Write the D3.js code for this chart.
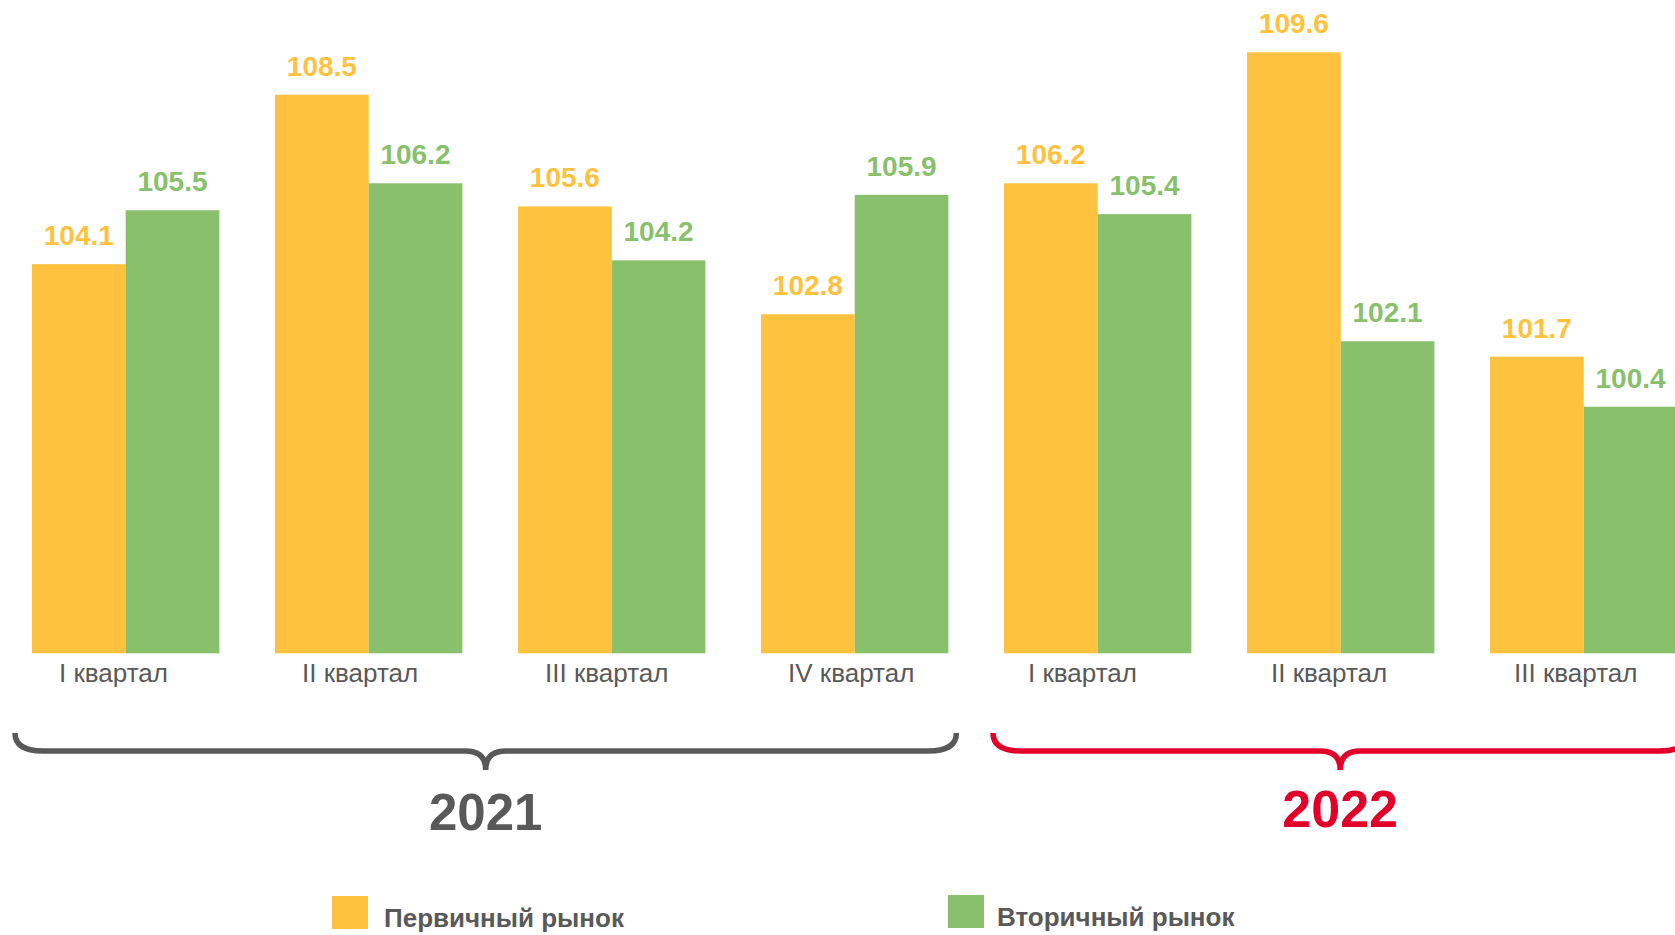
<!DOCTYPE html>
<html>
<head>
<meta charset="utf-8">
<script src="https://cdn.jsdelivr.net/npm/d3@7"></script>
<style>
  body { margin: 0; background: #fff; overflow: hidden; }
  text { font-family: "Liberation Sans", Arial, sans-serif; }
</style>
</head>
<body>
<script>
// data
var quarters = ["I квартал", "II квартал", "III квартал", "IV квартал", "I квартал", "II квартал", "III квартал"];
var primary = [104.1, 108.5, 105.6, 102.8, 106.2, 109.6, 101.7];
var secondary = [105.5, 106.2, 104.2, 105.9, 105.4, 102.1, 100.4];
var seriesNames = ["Первичный рынок", "Вторичный рынок"];
var yearLabels = ["2021", "2022"];
var yearFirst = [0, 4];
var yearLast = [3, 6];

var colors = ["#FFC23E", "#88C06C"];
var yearColors = ["#595959", "#E2002A"];

var svg = d3.select('body').append('svg')
  .attr('width', 1675)
  .attr('height', 935);

var x = d3.scaleBand()
  .domain(d3.range(quarters.length))
  .range([32, 1677.4])
  .paddingInner(0.229)
  .paddingOuter(0);

var xs = d3.scaleBand().domain([0, 1]).range([0, x.bandwidth()]);

var y = d3.scaleLinear().domain([94, 109.6]).range([653.3, 52.3]);

var rows = quarters.map(function(q, i){ return {i: i, vals: [primary[i], secondary[i]]}; });

var groups = svg.selectAll('.grp').data(rows).enter().append('g')
  .attr('class', 'grp')
  .attr('transform', function(d){ return 'translate(' + x(d.i) + ',0)'; });

var bars = groups.selectAll('.bar')
  .data(function(d){ return d.vals.map(function(v, k){ return {k: k, v: v}; }); })
  .enter();

bars.append('rect')
  .attr('x', function(d){ return xs(d.k); })
  .attr('y', function(d){ return y(d.v); })
  .attr('width', xs.bandwidth())
  .attr('height', function(d){ return y(94) - y(d.v); })
  .style('fill', function(d){ return colors[d.k]; });

bars.append('text')
  .attr('x', function(d){ return xs(d.k) + xs.bandwidth() / 2; })
  .attr('y', function(d){ return y(d.v) - 19; })
  .attr('text-anchor', 'middle')
  .style('font-size', '28px')
  .style('font-weight', 'bold')
  .style('fill', function(d){ return colors[d.k]; })
  .text(function(d){ return d.v.toFixed(1); });

// category labels (left aligned inside the group, like the original)
groups.append('text')
  .attr('x', function(d){ return d.i < 4 ? 27 : 24; })
  .attr('y', 682)
  .style('font-size', '26px')
  .style('fill', '#595959')
  .text(function(d){ return quarters[d.i]; });

// year braces
var brace = function(x1, x2, yTop, yLine, yTip){
  var mid = (x1 + x2) / 2, r = 28, r2 = 20;
  return 'M' + x1 + ',' + yTop +
    'Q' + x1 + ',' + yLine + ' ' + (x1 + r) + ',' + yLine +
    'H' + (mid - r2) +
    'Q' + mid + ',' + yLine + ' ' + mid + ',' + yTip +
    'Q' + mid + ',' + yLine + ' ' + (mid + r2) + ',' + yLine +
    'H' + (x2 - r) +
    'Q' + x2 + ',' + yLine + ' ' + x2 + ',' + yTop;
};

var braceStart = [-17, -11];
var braceEnd = [8, 10];
var yearSize = [51, 52];
var yearBase = [830, 827];

yearLabels.forEach(function(lbl, j){
  var x1 = x(yearFirst[j]) + braceStart[j];
  var x2 = x(yearLast[j]) + x.bandwidth() + braceEnd[j];
  svg.append('path')
    .attr('d', brace(x1, x2, 733, 751, 770))
    .style('fill', 'none')
    .style('stroke', yearColors[j])
    .style('stroke-width', 5.5);
  svg.append('text')
    .attr('x', (x1 + x2) / 2)
    .attr('y', yearBase[j])
    .attr('text-anchor', 'middle')
    .style('font-size', yearSize[j] + 'px')
    .style('font-weight', 'bold')
    .style('fill', yearColors[j])
    .text(lbl);
});

// legend
var legX = [332, 948];
var legY = [896, 895];
var legGap = [52, 49];
seriesNames.forEach(function(name, k){
  svg.append('rect')
    .attr('x', legX[k]).attr('y', legY[k])
    .attr('width', 36).attr('height', 33)
    .style('fill', colors[k]);
  svg.append('text')
    .attr('x', legX[k] + legGap[k])
    .attr('y', legY[k] + 31)
    .style('font-size', '26px')
    .style('font-weight', 'bold')
    .style('fill', '#595959')
    .text(name);
});
</script>
</body>
</html>
